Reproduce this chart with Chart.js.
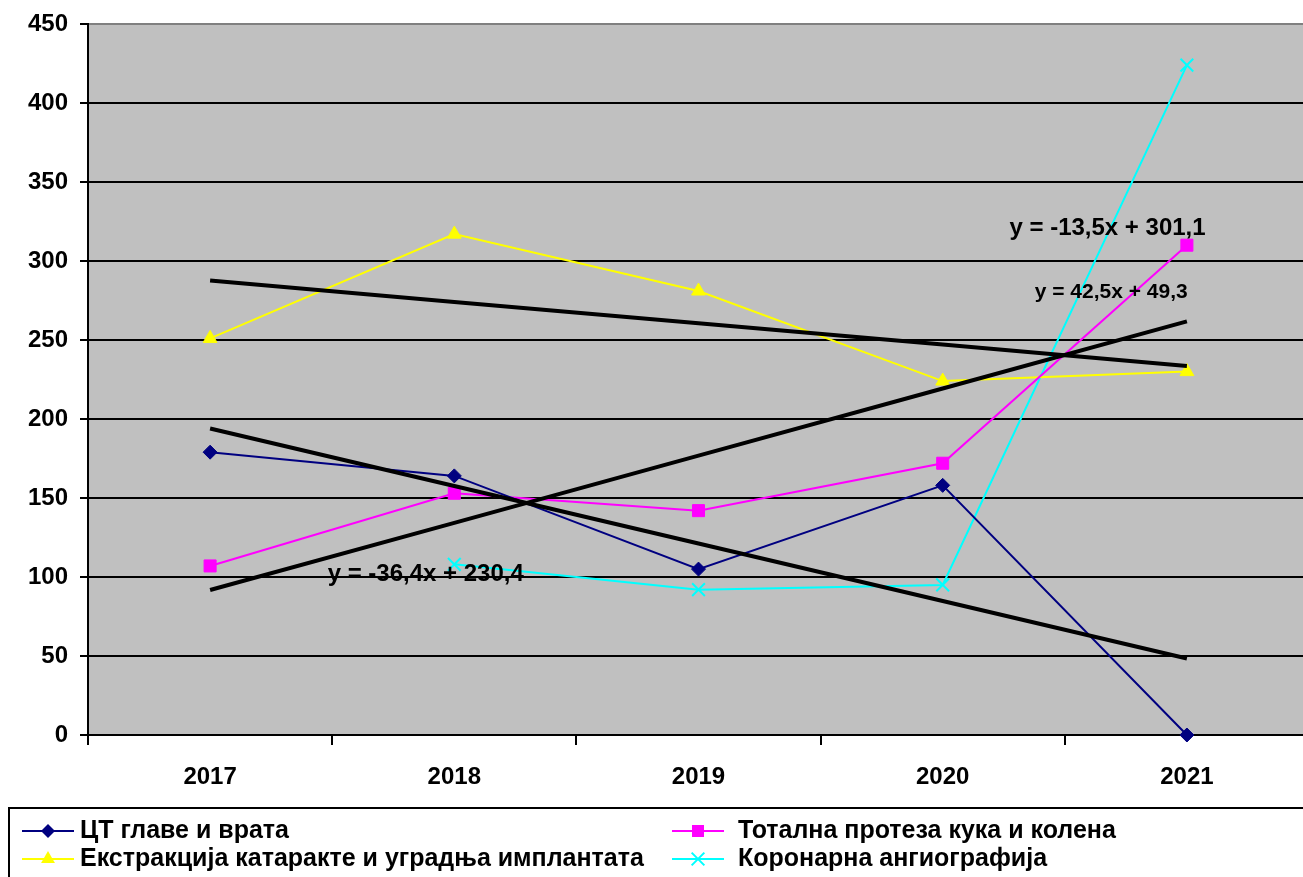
<!DOCTYPE html>
<html>
<head>
<meta charset="utf-8">
<script src="https://cdn.jsdelivr.net/npm/chart.js@4.4.0/dist/chart.umd.min.js"></script>
<style>
  html, body { margin: 0; padding: 0; background: #fff; overflow: hidden; }
  #wrap { width: 1320px; height: 877px; }
</style>
</head>
<body>
<div id="wrap"><canvas id="chart" width="1320" height="877"></canvas></div>
<script>
const years = ['2017', '2018', '2019', '2020', '2021'];
const seriesNames = [
  'ЦТ главе и врата',
  'Тотална протеза кука и колена',
  'Екстракција катаракте и уградња имплантата',
  'Коронарна ангиографија',
];
const ctHeadNeck = [179, 164, 105, 158, 0];
const hipKnee = [107, 153, 142, 172, 310];
const cataract = [251, 317, 281, 224, 230];
const coronary = [null, 108, 92, 95, 424];

// linear trend lines as they appear on the picture
const ctTrend = [194.0, 157.6, 121.2, 84.8, 48.4];
const hipKneeTrend = [91.8, 134.3, 176.8, 219.3, 261.8];
const cataractTrend = [287.6, 274.1, 260.6, 247.1, 233.6];
const equations = ['y = -13,5x + 301,1', 'y = 42,5x + 49,3', 'y = -36,4x + 230,4'];

const yTicks = [0, 50, 100, 150, 200, 250, 300, 350, 400, 450];

const FONT = 'Liberation Sans, Arial, sans-serif';

const seriesStyles = [
  { color: '#000080', point: 'rectRot', radius: 7 },
  { color: '#ff00ff', point: 'rect', radius: 8.5 },
  { color: '#ffff00', point: 'triangle', radius: 8 },
  { color: '#00ffff', point: 'crossRot', radius: 9 },
];

// where the equation texts sit (category index, value) and their size
const equationSpots = [
  { x: 3.675, y: 320.5, size: 24 },
  { x: 3.69, y: 280, size: 21 },
  { x: 0.883, y: 101.8, size: 24 },
];

const plotBackground = {
  id: 'plotBackground',
  beforeDraw(chart) {
    const { ctx, chartArea: a } = chart;
    ctx.save();
    ctx.fillStyle = '#c0c0c0';
    ctx.fillRect(a.left, a.top, a.right - a.left, a.bottom - a.top);
    ctx.restore();
  },
};

const equationLabels = {
  id: 'equationLabels',
  afterDatasetsDraw(chart) {
    const { ctx, scales } = chart;
    ctx.save();
    ctx.fillStyle = '#000';
    ctx.textAlign = 'center';
    ctx.textBaseline = 'middle';
    equations.forEach((text, i) => {
      const spot = equationSpots[i];
      ctx.font = `bold ${spot.size}px ${FONT}`;
      ctx.fillText(text, scales.x.getPixelForValue(spot.x), scales.y.getPixelForValue(spot.y));
    });
    ctx.restore();
  },
};

function drawMarker(ctx, type, x, y, r, color) {
  ctx.save();
  ctx.fillStyle = color;
  ctx.strokeStyle = color;
  ctx.lineWidth = 2;
  ctx.beginPath();
  if (type === 'rectRot') {
    ctx.moveTo(x - r, y); ctx.lineTo(x, y - r); ctx.lineTo(x + r, y); ctx.lineTo(x, y + r);
    ctx.closePath(); ctx.fill();
  } else if (type === 'rect') {
    ctx.rect(x - r * 0.707, y - r * 0.707, r * 1.414, r * 1.414); ctx.fill();
  } else if (type === 'triangle') {
    ctx.moveTo(x, y - r); ctx.lineTo(x + r * 0.866, y + r * 0.5); ctx.lineTo(x - r * 0.866, y + r * 0.5);
    ctx.closePath(); ctx.fill();
  } else {
    const d = r * 0.707;
    ctx.moveTo(x - d, y - d); ctx.lineTo(x + d, y + d);
    ctx.moveTo(x + d, y - d); ctx.lineTo(x - d, y + d);
    ctx.stroke();
  }
  ctx.restore();
}

const boxLegend = {
  id: 'boxLegend',
  afterDraw(chart) {
    const { ctx } = chart;
    ctx.save();
    ctx.strokeStyle = '#000';
    ctx.lineWidth = 2;
    ctx.strokeRect(9, 808, 1400, 200);
    ctx.font = `bold 25px ${FONT}`;
    ctx.textBaseline = 'middle';
    ctx.fillStyle = '#000';
    const cols = [{ line: 22, text: 80 }, { line: 672, text: 738 }];
    const rows = [831, 859];
    const placement = [[0, 0], [1, 0], [0, 1], [1, 1]];
    seriesNames.forEach((name, i) => {
      const col = cols[placement[i][0]];
      const y = rows[placement[i][1]];
      const st = seriesStyles[i];
      ctx.strokeStyle = st.color;
      ctx.lineWidth = 2;
      ctx.beginPath();
      ctx.moveTo(col.line, y);
      ctx.lineTo(col.line + 52, y);
      ctx.stroke();
      drawMarker(ctx, st.point, col.line + 26, y, st.radius, st.color);
      ctx.fillStyle = '#000';
      ctx.fillText(name, col.text, y);
    });
    ctx.restore();
  },
};

const dataSeries = [ctHeadNeck, hipKnee, cataract, coronary];
const datasets = dataSeries.map((values, i) => ({
  label: seriesNames[i],
  data: values,
  borderColor: seriesStyles[i].color,
  backgroundColor: seriesStyles[i].color,
  borderWidth: 2,
  pointStyle: seriesStyles[i].point,
  pointRadius: seriesStyles[i].radius,
  pointBorderWidth: seriesStyles[i].point === 'crossRot' ? 2 : 1,
  spanGaps: false,
  clip: false,
  order: 1,
}));

[ctTrend, hipKneeTrend, cataractTrend].forEach((values) => {
  datasets.push({
    label: 'trend',
    data: values,
    borderColor: '#000',
    borderWidth: 4,
    pointRadius: 0,
    clip: false,
    order: 0,
  });
});

new Chart(document.getElementById('chart'), {
  type: 'line',
  data: { labels: years, datasets: datasets },
  options: {
    responsive: false,
    animation: false,
    events: [],
    devicePixelRatio: 1,
    layout: { padding: { top: 22, right: 9, bottom: 0, left: 0 } },
    scales: {
      x: {
        offset: true,
        afterFit: (scale) => { scale.height = 142; },
        grid: {
          offset: true,
          drawOnChartArea: false,
          drawTicks: true,
          tickLength: 10,
          color: '#000',
          lineWidth: 2,
        },
        border: { color: '#000', width: 2 },
        ticks: {
          color: '#000',
          padding: 18,
          font: { family: FONT, size: 24, weight: 'bold' },
        },
      },
      y: {
        min: yTicks[0],
        max: yTicks[yTicks.length - 1],
        afterFit: (scale) => { scale.width = 88; },
        grid: {
          color: (c) => (c.tick && c.tick.value === 450 ? '#808080' : '#000'),
          tickColor: '#000',
          lineWidth: 2,
          tickLength: 8,
        },
        border: { color: '#000', width: 2 },
        ticks: {
          stepSize: 50,
          color: '#000',
          padding: 12,
          font: { family: FONT, size: 24, weight: 'bold', lineHeight: 1 },
        },
      },
    },
    plugins: {
      legend: { display: false },
      tooltip: { enabled: false },
      title: { display: false },
    },
  },
  plugins: [plotBackground, equationLabels, boxLegend],
});
</script>
</body>
</html>
